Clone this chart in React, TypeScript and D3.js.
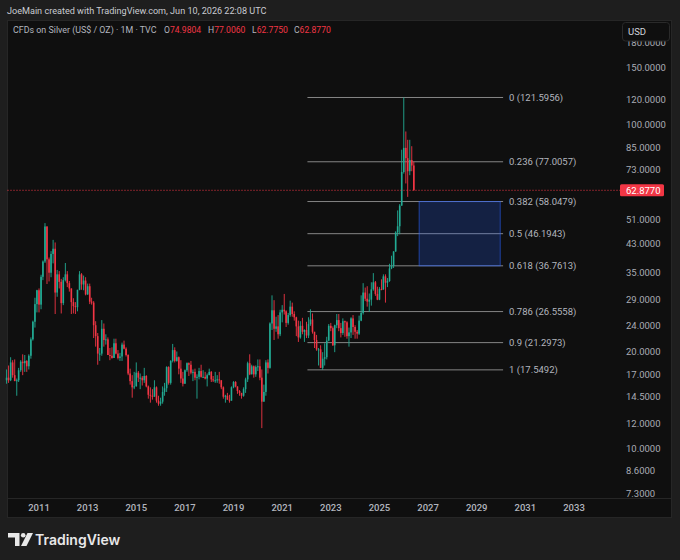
import React from "react";
import * as d3 from "d3";

// ---- DATA ----
const startYear = 2009;
const startMonth = 8; // September (0-based)

const opens = [
  16.3, 16.6, 16.3, 18.5,
  16.9, 16.2, 16.3, 17.5, 18.6, 18.4, 18.7, 18.0, 19.4, 21.8, 24.7, 28.0,
  30.9, 27.9, 34.0, 37.9, 48.6, 38.5, 35.0, 40.0, 41.5, 30.4, 34.6, 32.8,
  28.2, 33.2, 34.6, 32.5, 31.3, 28.4, 27.6, 27.4, 31.0, 34.6, 32.2, 33.1,
  30.0, 31.8, 28.5, 28.3, 24.1, 22.3, 19.7, 19.7, 23.5, 21.7, 21.8, 19.5,
  19.4, 19.1, 21.2, 19.7, 19.1, 19.3, 21.0, 20.4, 19.5, 17.1, 16.2, 15.5,
  15.6, 17.2, 16.6, 16.6, 16.3, 16.8, 15.6, 14.7, 14.6, 14.5, 15.5, 14.1,
  13.8, 14.0, 15.0, 15.4, 17.9, 16.0, 18.7, 20.2, 18.7, 19.2, 17.7, 16.5,
  15.9, 17.5, 18.4, 18.2, 17.2, 17.3, 16.6, 16.7, 17.4, 16.7, 16.7, 16.5,
  16.9, 17.3, 16.4, 16.3, 16.3, 16.4, 16.3, 15.5, 14.5, 14.6, 14.2, 14.1,
  15.5, 16.1, 15.6, 15.1, 14.9, 14.6, 15.3, 16.4, 18.4, 17.0, 18.0, 17.0,
  17.9, 18.0, 16.6, 14.0, 15.0, 18.5, 17.8, 24.4, 26.8, 23.5, 23.9, 22.6,
  26.4, 26.9, 26.6, 24.5, 25.9, 27.5, 26.1, 25.5, 23.9, 22.1, 24.0, 23.0,
  23.3, 22.4, 24.3, 25.1, 23.0, 21.7, 20.3, 20.3, 17.8, 19.0, 19.2, 21.6,
  24.0, 23.6, 20.9, 24.1, 25.0, 23.6, 22.8, 24.8, 24.6, 22.3, 22.9, 25.3,
  23.8, 23.0, 22.7, 24.9, 26.3, 30.4, 29.1, 28.5, 28.9, 31.1, 32.7, 30.1,
  28.9, 31.2, 31.1, 34.1, 32.6, 33.0, 36.1, 36.7, 40.7, 46.6, 48.7, 56.4,
  71.6, 85.0, 79.0, 72.0, 78.0, 74.9804,
];

const highs = [
  17.6, 18.1, 19.2, 18.8,
  18.9, 16.5, 17.8, 18.8, 19.6, 19.5, 18.8, 19.6, 22.1, 24.9, 29.3, 31.0,
  31.3, 34.5, 38.2, 49.8, 48.7, 39.0, 40.8, 44.2, 43.4, 35.7, 35.4, 33.5,
  33.9, 37.5, 35.4, 33.0, 31.3, 29.2, 28.4, 31.0, 35.4, 34.9, 34.3, 33.9,
  32.4, 32.4, 29.3, 28.6, 24.8, 22.8, 20.5, 25.0, 24.4, 22.6, 22.1, 20.5,
  20.6, 21.9, 21.9, 20.2, 19.8, 21.3, 21.6, 20.6, 19.6, 17.7, 16.9, 17.3,
  18.5, 17.4, 17.1, 16.8, 17.8, 16.9, 15.7, 15.5, 15.3, 16.3, 15.6, 14.6,
  14.4, 15.6, 16.0, 18.0, 18.0, 18.8, 21.1, 20.6, 20.0, 19.3, 18.8, 17.3,
  17.6, 18.5, 18.5, 18.7, 17.6, 17.7, 17.0, 17.8, 18.2, 17.5, 17.3, 17.1,
  17.7, 17.4, 16.8, 17.3, 16.9, 17.3, 16.3, 15.6, 14.7, 14.9, 14.7, 15.6,
  16.2, 16.2, 15.6, 15.2, 14.9, 15.5, 16.6, 18.6, 19.6, 18.2, 18.1, 18.1,
  18.9, 18.9, 17.6, 15.8, 18.8, 18.9, 24.6, 29.8, 28.8, 25.6, 25.9, 26.9,
  27.8, 30.1, 26.8, 26.3, 28.7, 28.3, 26.6, 25.6, 24.9, 24.8, 25.4, 23.4,
  24.7, 25.5, 27.0, 26.2, 23.0, 22.5, 20.5, 20.9, 19.9, 21.2, 22.2, 24.3,
  24.5, 23.9, 24.2, 26.1, 26.1, 24.5, 25.3, 24.9, 24.8, 23.7, 25.5, 25.9,
  24.1, 23.3, 25.8, 29.8, 32.5, 31.5, 31.8, 30.2, 32.7, 34.9, 33.0, 31.7,
  31.6, 33.4, 34.6, 34.6, 33.7, 37.3, 39.5, 40.8, 47.0, 54.5, 57.0, 83.9,
  121.5956, 95.5, 90.0, 90.0, 86.0, 77.006,
];

const lows = [
  15.9, 16.0, 16.2, 16.6,
  16.2, 14.6, 16.1, 17.3, 16.9, 17.3, 17.3, 17.6, 19.0, 21.6, 23.7, 26.4,
  26.4, 27.0, 33.2, 37.5, 32.3, 32.9, 33.9, 37.4, 26.1, 29.5, 31.3, 26.2,
  27.8, 32.9, 31.6, 30.6, 26.1, 26.2, 26.1, 26.6, 30.9, 31.0, 30.9, 29.8,
  29.9, 28.0, 27.9, 22.0, 20.7, 18.2, 18.7, 19.4, 20.7, 21.0, 19.5, 18.8,
  19.0, 19.1, 19.6, 18.9, 18.7, 18.7, 20.3, 19.3, 16.9, 15.8, 14.4, 15.3,
  15.6, 16.1, 15.3, 15.7, 16.0, 15.5, 14.3, 13.9, 14.2, 14.5, 13.9, 13.6,
  13.6, 13.8, 14.6, 15.0, 15.8, 15.8, 18.5, 18.5, 18.6, 17.0, 16.0, 15.6,
  15.9, 17.3, 16.8, 17.0, 16.2, 16.3, 14.3, 16.4, 16.6, 16.6, 16.4, 15.6,
  16.9, 16.1, 16.1, 16.0, 16.0, 15.9, 15.3, 14.3, 13.9, 14.2, 13.9, 14.1,
  15.4, 15.5, 14.8, 14.6, 14.3, 14.5, 14.9, 16.1, 16.9, 17.0, 16.6, 16.7,
  17.4, 16.3, 11.6, 14.0, 14.6, 17.1, 17.7, 23.3, 21.7, 23.0, 21.9, 22.3,
  24.6, 26.0, 23.8, 24.2, 25.6, 25.6, 24.9, 22.3, 21.4, 21.9, 22.6, 21.4,
  22.0, 22.0, 24.0, 22.7, 20.5, 20.1, 18.1, 17.8, 17.5492, 18.1, 18.9, 21.5,
  23.1, 20.8, 19.9, 23.6, 23.1, 22.1, 22.5, 22.2, 21.9, 20.7, 22.0, 22.5,
  21.9, 21.9, 22.5, 24.8, 26.0, 28.6, 27.5, 26.5, 27.7, 30.8, 29.7, 28.8,
  28.8, 30.9, 31.0, 28.3, 31.6, 32.8, 35.9, 36.2, 40.6, 45.4, 46.0, 56.3,
  70.8, 66.0, 60.0, 70.0, 72.0, 62.775,
];

const closes = [
  16.6, 16.3, 18.5, 16.9,
  16.2, 16.3, 17.5, 18.6, 18.4, 18.7, 18.0, 19.4, 21.8, 24.7, 28.0, 30.9,
  27.9, 34.0, 37.9, 48.6, 38.5, 35.0, 40.0, 41.5, 30.4, 34.6, 32.8, 28.2,
  33.2, 34.6, 32.5, 31.3, 28.4, 27.6, 27.4, 31.0, 34.6, 32.2, 33.1, 30.0,
  31.8, 28.5, 28.3, 24.1, 22.3, 19.7, 19.7, 23.5, 21.7, 21.8, 19.5, 19.4,
  19.1, 21.2, 19.7, 19.1, 19.3, 21.0, 20.4, 19.5, 17.1, 16.2, 15.5, 15.6,
  17.2, 16.6, 16.6, 16.3, 16.8, 15.6, 14.7, 14.6, 14.5, 15.5, 14.1, 13.8,
  14.0, 15.0, 15.4, 17.9, 16.0, 18.7, 20.2, 18.7, 19.2, 17.7, 16.5, 15.9,
  17.5, 18.4, 18.2, 17.2, 17.3, 16.6, 16.7, 17.4, 16.7, 16.7, 16.5, 16.9,
  17.3, 16.4, 16.3, 16.3, 16.4, 16.3, 15.5, 14.5, 14.6, 14.2, 14.1, 15.5,
  16.1, 15.6, 15.1, 14.9, 14.6, 15.3, 16.4, 18.4, 17.0, 18.0, 17.0, 17.9,
  18.0, 16.6, 14.0, 15.0, 18.5, 17.8, 24.4, 26.8, 23.5, 23.9, 22.6, 26.4,
  26.9, 26.6, 24.5, 25.9, 27.5, 26.1, 25.5, 23.9, 22.1, 24.0, 23.0, 23.3,
  22.4, 24.3, 25.1, 23.0, 21.7, 20.3, 20.3, 17.8, 19.0, 19.2, 21.6, 24.0,
  23.6, 20.9, 24.1, 25.0, 23.6, 22.8, 24.8, 24.6, 22.3, 22.9, 25.3, 23.8,
  23.0, 22.7, 24.9, 26.3, 30.4, 29.1, 28.5, 28.9, 31.1, 32.7, 30.1, 28.9,
  31.2, 31.1, 34.1, 32.6, 33.0, 36.1, 36.7, 40.7, 46.6, 48.7, 56.4, 71.6,
  85.0, 79.0, 72.0, 78.0, 74.98, 62.877,
];

const priceTicks = [180, 150, 120, 100, 85, 73, 62, 51, 43, 35, 29, 24, 20, 17, 14.5, 12, 10, 8.6, 7.3];
const yearTicks = [2011, 2013, 2015, 2017, 2019, 2021, 2023, 2025, 2027, 2029, 2031, 2033];

const fibRatios = ["0", "0.236", "0.382", "0.5", "0.618", "0.786", "0.9", "1"];
const fibPrices = [121.5956, 77.0057, 58.0479, 46.1943, 36.7613, 26.5558, 21.2973, 17.5492];
const fibStart = new Date(2022, 0, 15);
const fibEnd = new Date(2030, 1, 1);
const boxStart = new Date(2026, 7, 20);
const boxEnd = new Date(2029, 11, 20);
const boxTop = 58.0479;
const boxBottom = 36.7613;

const lastPrice = 62.877;
const legendValues = [
  { k: "O", v: "74.9804" },
  { k: "H", v: "77.0060" },
  { k: "L", v: "62.7750" },
  { k: "C", v: "62.8770" },
];

// ---- CHART ----
const UP = "#22ab94";
const DOWN = "#f23645";
const FONT = "Roboto, 'Noto Sans', sans-serif";

export default function App() {
  const x = d3.scaleTime().domain([new Date(2011, 0, 1), new Date(2033, 0, 1)]).range([39, 574]);
  const y = d3.scaleLog().domain([10, 100]).range([449, 125]);

  const candles = closes.map((c, i) => {
    const o = opens[i];
    const h = Math.max(highs[i], o, c);
    const l = Math.min(lows[i], o, c);
    const date = new Date(startYear, startMonth + i, 1);
    return { date, o, h, l, c };
  });

  const legendX = [164, 208, 252, 294];

  return (
    <svg width={680} height={560} style={{ position: "fixed", left: 0, top: 0, display: "block" }} fontFamily={FONT}>
      <rect x={0} y={0} width={680} height={560} fill="#1e1e1e" />
      <text x={7} y={14} fontSize={9.1} fill="#c9cbd1">JoeMain created with TradingView.com, Jun 10, 2026 22:08 UTC</text>

      {/* pane */}
      <rect x={7.5} y={20.5} width={664} height={497} fill="#0f0f0f" stroke="#262626" />
      <line x1={7.5} x2={671.5} y1={498.5} y2={498.5} stroke="#262626" />

      {/* legend */}
      <text x={13} y={33} fontSize={8.9} fill="#b2b5be">CFDs on Silver (US$ / OZ) · 1M · TVC</text>
      {legendValues.map((d, i) => (
        <text key={d.k} x={legendX[i]} y={33} fontSize={8.6} fill="#b2b5be">
          {d.k}
          <tspan fill={DOWN}>{d.v}</tspan>
        </text>
      ))}

      {/* fib lines */}
      {fibPrices.map((p, i) => (
        <g key={i}>
          <line x1={x(fibStart)} x2={x(fibEnd)} y1={y(p)} y2={y(p)} stroke="#858585" strokeWidth={1} />
          <text x={509} y={y(p)} dy="0.35em" fontSize={9.5} fill="#b2b5be">
            {fibRatios[i]} ({p.toFixed(4)})
          </text>
        </g>
      ))}

      {/* blue box */}
      <rect
        x={x(boxStart)}
        y={y(boxTop)}
        width={x(boxEnd) - x(boxStart)}
        height={y(boxBottom) - y(boxTop)}
        fill="#2962ff"
        fillOpacity={0.22}
        stroke="#2962ff"
        strokeOpacity={0.55}
        strokeWidth={1}
      />

      {/* candles */}
      <g>
        {candles.map((d, i) => {
          const cx = x(d.date);
          const color = d.c >= d.o ? UP : DOWN;
          const top = y(Math.max(d.o, d.c));
          const bot = y(Math.min(d.o, d.c));
          return (
            <g key={i}>
              <line x1={cx} x2={cx} y1={y(d.h)} y2={y(d.l)} stroke={color} strokeWidth={0.9} />
              <rect x={cx - 0.8} y={top} width={1.6} height={Math.max(1, bot - top)} fill={color} />
            </g>
          );
        })}
      </g>

      {/* last price line */}
      <line x1={7.5} x2={620} y1={y(lastPrice)} y2={y(lastPrice)} stroke={DOWN} strokeWidth={1} strokeDasharray="1 2" />

      {/* price axis labels */}
      {priceTicks.map((t) => (
        <text key={t} x={626} y={y(t)} dy="0.35em" fontSize={9.5} fill="#a9acb4">
          {t.toFixed(4)}
        </text>
      ))}

      {/* USD box */}
      <rect x={622.5} y={22.5} width={47} height={18.5} rx={3} fill="#0f0f0f" stroke="#2a2a2a" />
      <text x={628} y={31.5} dy="0.35em" fontSize={9.5} fill="#d1d4dc">USD</text>

      {/* last price label */}
      <rect x={620} y={y(lastPrice) - 6} width={44} height={12} rx={1.5} fill={DOWN} />
      <text x={626} y={y(lastPrice)} dy="0.35em" fontSize={9.5} fill="#ffffff">{lastPrice.toFixed(4)}</text>

      {/* time axis */}
      {yearTicks.map((yr) => (
        <text key={yr} x={x(new Date(yr, 0, 1))} y={508} dy="0.35em" textAnchor="middle" fontSize={9.5} fontWeight={500} fill="#b2b5be">
          {yr}
        </text>
      ))}

      {/* TradingView logo */}
      <g fill="#e8e8e8">
        <path d="M8,533 L19.5,533 L19.5,546 L15,546 L15,537.5 L8,537.5 Z" />
        <circle cx={23.2} cy={535.3} r={2.3} />
        <path d="M27.5,533 L33,533 L26.5,546 L21,546 Z" />
      </g>
      <text x={35} y={545} fontFamily="Inter, sans-serif" fontSize={14} fontWeight={600} fill="#e8e8e8">TradingView</text>
    </svg>
  );
}
